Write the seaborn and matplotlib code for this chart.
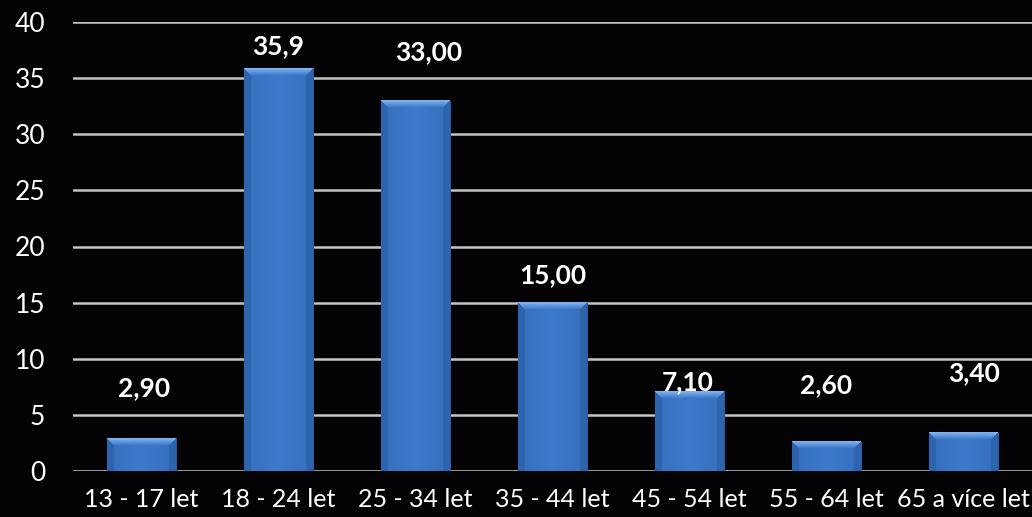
import numpy as np
import pandas as pd
import seaborn as sns
import matplotlib.pyplot as plt

# ============================================================================
# DATA
# ============================================================================
categories = ['13 - 17 let', '18 - 24 let', '25 - 34 let', '35 - 44 let',
              '45 - 54 let', '55 - 64 let', '65 a více let']
values = [2.9, 35.9, 33.0, 15.0, 7.1, 2.6, 3.4]
value_labels = ['2,90', '35,9', '33,00', '15,00', '7,10', '2,60', '3,40']

# label placement as in the original (baseline, in axis units)
label_y = [6.7, 37.15, 36.6, 16.75, 7.2, 6.95, 8.0]
label_dx = [0.02, 0.0, 0.095, 0.0, -0.015, 0.0, 0.08]

df = pd.DataFrame({'Věk': categories, 'Podíl': values})

# ============================================================================
# FIGURE
# ============================================================================
sns.set_theme(style="dark")
plt.rcParams['font.family'] = ['Lato', 'DejaVu Sans']

W, H = 1032, 517
fig = plt.figure(figsize=(W / 100, H / 100), dpi=100, facecolor='#030306')
ax = fig.add_axes([73 / W, (H - 471) / H, 959 / W, 449 / H])
ax.set_facecolor('#030306')

sns.barplot(data=df, x='Věk', y='Podíl', color='#3d7acb', width=0.5,
            ax=ax, zorder=2, saturation=1)

ax.set_xlim(-0.5, 6.5)
ax.set_ylim(0, 40)
ax.set_yticks(range(0, 41, 5))
ax.set_xlabel('')
ax.set_ylabel('')
ax.grid(axis='y', color='#c4c4c4', linewidth=1.8, zorder=0)
ax.grid(axis='x', visible=False)
for s in ax.spines.values():
    s.set_visible(False)
ax.tick_params(axis='y', length=0, pad=20, labelsize=19, labelcolor='white')
ax.tick_params(axis='x', length=0, pad=12, labelsize=18, labelcolor='white')

# ============================================================================
# BEVELED BAR SHADING
# ============================================================================
face = np.array([0x3d, 0x7a, 0xcb]) / 255
face_edge = np.array([0x30, 0x66, 0xb2]) / 255
top_col = np.array([0x86, 0xb8, 0xf2]) / 255
side_col = np.array([0x2e, 0x63, 0xad]) / 255
bev = 7

fig.canvas.draw()
for patch in ax.patches:
    x0, y0 = patch.get_x(), patch.get_y()
    w, h = patch.get_width(), patch.get_height()
    (px0, py0), (px1, py1) = ax.transData.transform([(x0, y0), (x0 + w, y0 + h)])
    nw, nh = max(int(round(px1 - px0)), 2), max(int(round(py1 - py0)), 2)
    xx, yy = np.meshgrid(np.arange(nw) + 0.5, np.arange(nh) + 0.5)
    # horizontal gradient on the face
    t = np.abs(xx / nw - 0.5) * 2
    img = face[None, None, :] * (1 - t[..., None] * 0.6) + face_edge * (t[..., None] * 0.6)
    d_top = yy
    d_side = np.minimum(xx, nw - xx)
    top_mask = (d_top < bev) & (d_top <= d_side)
    side_mask = (d_side < bev) & (d_side < d_top)
    ft = (d_top / bev)[..., None]
    img = np.where(top_mask[..., None], top_col * (1 - ft) + face * ft, img)
    img = np.where(side_mask[..., None], side_col, img)
    ax.imshow(img, extent=(x0, x0 + w, y0, y0 + h), aspect='auto',
              interpolation='nearest', zorder=3, clip_path=patch, clip_on=True)
    patch.set_edgecolor('#2a5a9e')
    patch.set_linewidth(0.8)

ax.set_xlim(-0.5, 6.5)
ax.set_ylim(0, 40)

# value labels
for i, (txt, yv, dx) in enumerate(zip(value_labels, label_y, label_dx)):
    ax.text(i + dx, yv, txt, ha='center', va='baseline', color='white',
            fontsize=19, fontweight='bold', zorder=5)

# ============================================================================
# SAVE
# ============================================================================
fig.savefig("out.png", dpi=100, facecolor=fig.get_facecolor())
